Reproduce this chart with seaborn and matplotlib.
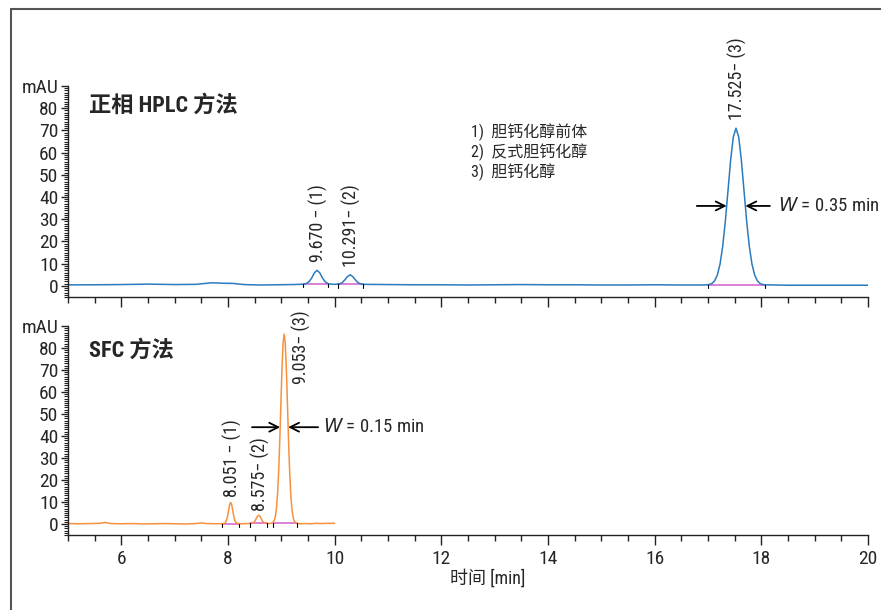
import matplotlib
matplotlib.use("Agg")
import matplotlib.pyplot as plt
from matplotlib import font_manager
from matplotlib.lines import Line2D
from matplotlib.ticker import MultipleLocator
import seaborn as sns
import pandas as pd

# HPLC trace (min, mAU)
hplc_time = [5.0, 5.5, 6.0, 6.5, 7.0, 7.4, 7.7, 7.9, 8.1, 8.3, 8.6, 8.9, 9.2, 9.35,
             9.42, 9.47, 9.52, 9.57, 9.62, 9.67, 9.72, 9.77, 9.82, 9.87, 9.92, 10.0,
             10.09, 10.14, 10.19, 10.24, 10.29, 10.34, 10.39, 10.44, 10.49, 10.55,
             11.0, 11.5, 12.0, 12.5, 13.0, 13.5, 14.0, 14.5, 15.0, 15.5, 16.0, 16.5, 16.9,
             16.975, 17.025, 17.075, 17.125, 17.175, 17.225, 17.275, 17.325, 17.375, 17.425,
             17.475, 17.525, 17.575, 17.625, 17.675, 17.725, 17.775, 17.825, 17.875, 17.925,
             17.975, 18.025, 18.075, 18.5, 19.0, 19.5, 20.0]
hplc_mau = [0.45, 0.5, 0.6, 0.8, 0.6, 0.7, 1.4, 1.2, 1.1, 0.6, 0.4, 0.5, 0.6, 0.7,
            0.8, 1.1, 1.9, 3.6, 5.9, 7.0, 5.9, 3.6, 1.9, 1.1, 0.8, 0.7,
            0.9, 1.4, 2.7, 4.2, 5.0, 4.2, 2.7, 1.4, 0.9, 0.7,
            0.6, 0.5, 0.5, 0.4, 0.5, 0.6, 0.5, 0.5, 0.4, 0.4, 0.5, 0.4, 0.4,
            0.5, 0.65, 1.1, 2.3, 4.9, 9.7, 17.7, 29.1, 42.9, 56.8,
            67.1, 71.0, 67.1, 56.8, 42.9, 29.1, 17.7, 9.7, 4.9, 2.3,
            1.1, 0.65, 0.5, 0.3, 0.3, 0.3, 0.3]

# SFC trace
sfc_time = [5.0, 5.2, 5.4, 5.6, 5.7, 5.8, 6.0, 6.2, 6.4, 6.6, 6.8, 7.0, 7.2, 7.4, 7.5, 7.6, 7.8, 7.9,
            7.93, 7.95, 7.97, 7.99, 8.01, 8.03, 8.05, 8.07, 8.09, 8.11, 8.13, 8.15, 8.17,
            8.25, 8.35, 8.43, 8.45, 8.475, 8.50, 8.525, 8.55, 8.575, 8.60, 8.625, 8.65, 8.675,
            8.70, 8.75, 8.80, 8.813, 8.853, 8.873, 8.893, 8.913, 8.933, 8.953, 8.973, 8.993,
            9.013, 9.033, 9.053, 9.073, 9.093, 9.113, 9.133, 9.153, 9.173, 9.193, 9.213,
            9.233, 9.253, 9.293, 9.35, 9.45, 9.55, 9.65, 9.75, 9.85, 10.0]
sfc_mau = [0.2, 0.1, 0.2, 0.3, 0.7, 0.2, 0.1, 0.2, 0.0, 0.1, 0.2, 0.1, 0.0, 0.2, 0.5, 0.2, 0.1, 0.2,
           0.3, 0.6, 1.5, 3.3, 6.0, 8.7, 9.8, 8.7, 6.0, 3.3, 1.5, 0.6, 0.3,
           0.1, 0.2, 0.2, 0.4, 0.6, 1.2, 2.3, 3.5, 4.0, 3.5, 2.3, 1.2, 0.6,
           0.4, 0.2, 0.3, 0.3, 1.0, 1.9, 4.1, 8.2, 15.1, 25.7, 39.7, 55.7,
           71.1, 82.2, 86.3, 82.2, 71.1, 55.7, 39.7, 25.7, 15.1, 8.2, 4.1,
           1.9, 1.0, 0.3, 0.1, 0.2, 0.1, 0.3, 0.2, 0.3, 0.3]

# integration baselines (start, end, level)
hplc_base_start = [9.41, 10.07, 17.0]
hplc_base_end = [9.88, 10.53, 18.07]
hplc_base_level = [0.8, 0.7, 0.4]
sfc_base_start = [7.89, 8.41, 8.85]
sfc_base_end = [8.21, 8.73, 9.29]
sfc_base_level = [0.2, 0.3, 0.3]

# peak labels
hplc_peak_rt = [9.670, 10.291, 17.525]
hplc_peak_text = ["9.670 − (1)", "10.291− (2)", "17.525− (3)"]
hplc_label_y = [10.8, 8.7, 74.6]
sfc_peak_text = ["8.051 − (1)", "8.575− (2)", "9.053− (3)"]

legend_lines = ["1)  胆钙化醇前体", "2)  反式胆钙化醇", "3)  胆钙化醇"]

sns.set_style("ticks")
# use a narrow latin face if one is around, CJK falls through to Noto
installed = {f.name for f in font_manager.fontManager.ttflist}
narrow = [n for n in ["Roboto Condensed", "Liberation Sans Narrow", "Open Sans Condensed"] if n in installed]
plt.rcParams['font.family'] = narrow[:1] + ['Noto Sans CJK SC', 'DejaVu Sans']
plt.rcParams['axes.unicode_minus'] = False

blue = "#2a7bbd"
orange = "#f7913d"
magenta = "#d66bd0"

fig = plt.figure(figsize=(8.81, 6.10), dpi=100)
ax1 = fig.add_axes([68 / 881, 1 - 297 / 610, 800 / 881, 211 / 610])
ax2 = fig.add_axes([68 / 881, 1 - 535 / 610, 800 / 881, 209 / 610])

df_h = pd.DataFrame({"t": hplc_time, "mau": hplc_mau})
df_s = pd.DataFrame({"t": sfc_time, "mau": sfc_mau})
sns.lineplot(data=df_h, x="t", y="mau", ax=ax1, color=blue, lw=1.1, sort=False)
sns.lineplot(data=df_s, x="t", y="mau", ax=ax2, color=orange, lw=1.1, sort=False)

for ax, s, e, lv in [(ax1, hplc_base_start, hplc_base_end, hplc_base_level),
                     (ax2, sfc_base_start, sfc_base_end, sfc_base_level)]:
    for a, b, c in zip(s, e, lv):
        ax.plot([a, b], [c, c], color=magenta, lw=1.2, zorder=1)
        ax.plot([a, a], [c, c - 1.5], color="k", lw=0.8)
        ax.plot([b, b], [c, c - 1.5], color="k", lw=0.8)

for ax in (ax1, ax2):
    ax.set_xlim(5, 20)
    ax.set_ylim(-5, 90)
    sns.despine(ax=ax)
    ax.xaxis.set_major_locator(MultipleLocator(2))
    ax.xaxis.set_minor_locator(MultipleLocator(0.5))
    ax.set_yticks(range(0, 91, 10))
    ax.set_yticklabels([str(v) for v in range(0, 81, 10)] + ["mAU"])
    ax.yaxis.set_minor_locator(MultipleLocator(1))
    ax.tick_params(axis="both", which="major", direction="out", labelsize=14, width=1, color="#222")
    ax.tick_params(axis="x", which="major", length=7, pad=4)
    ax.tick_params(axis="x", which="minor", length=4, width=1, color="#222")
    ax.tick_params(axis="y", which="major", length=5, pad=2)
    ax.tick_params(axis="y", which="minor", length=3, width=0.8, color="#222")
    for sp in ax.spines.values():
        sp.set_linewidth(1)
        sp.set_color("#222")
    ax.set_ylabel("")
    ax.set_xlabel("")
    ax.patch.set_alpha(0)

ax1.set_xticks([6, 8, 10, 12, 14, 16, 18, 20])
ax1.tick_params(axis="x", labelbottom=False)
ax2.set_xticks([6, 8, 10, 12, 14, 16, 18, 20])
ax2.set_xlabel("时间 [min]", fontsize=13)
ax2.xaxis.set_label_coords(0.525, -0.165)

ax1.text(5.4, 81, "正相 HPLC 方法", fontsize=16, fontweight="bold", va="center", ha="left")
ax2.text(5.4, 79, "SFC 方法", fontsize=16, fontweight="bold", va="center", ha="left")

for i, line in enumerate(legend_lines):
    ax1.text(12.55, 69 - i * 9, line, fontsize=11.5, va="center", ha="left")

for rt, txt, yb in zip(hplc_peak_rt, hplc_peak_text, hplc_label_y):
    ax1.text(rt + 0.02, yb, txt, rotation=90, fontsize=13, ha="center", va="bottom")

ax2.text(8.08, 12.4, sfc_peak_text[0], rotation=90, fontsize=13, ha="center", va="bottom")
ax2.text(8.60, 6.0, sfc_peak_text[1], rotation=90, fontsize=13, ha="center", va="bottom")
ax2.text(9.38, 97, sfc_peak_text[2], rotation=90, fontsize=13, ha="center", va="top")

arrow = dict(arrowstyle="->", color="k", lw=1.3, mutation_scale=16, shrinkA=0, shrinkB=0)
ax1.annotate("", xy=(17.35, 36), xytext=(16.79, 36), arrowprops=arrow)
ax1.annotate("", xy=(17.70, 36), xytext=(18.16, 36), arrowprops=arrow)
ax1.text(18.31, 36, "$\\it{W}$ = 0.35 min", fontsize=13.5, va="center", ha="left")
ax2.annotate("", xy=(8.978, 44), xytext=(8.45, 44), arrowprops=arrow)
ax2.annotate("", xy=(9.128, 44), xytext=(9.69, 44), arrowprops=arrow)
ax2.text(9.78, 44, "$\\it{W}$ = 0.15 min", fontsize=13.5, va="center", ha="left")

# page frame
fig.add_artist(Line2D([11 / 881, 11 / 881], [0, 1 - 9 / 610], color="#555", lw=1.5))
fig.add_artist(Line2D([11 / 881, 1], [1 - 9 / 610, 1 - 9 / 610], color="#555", lw=1.5))

fig.savefig("out.png", dpi=100)
